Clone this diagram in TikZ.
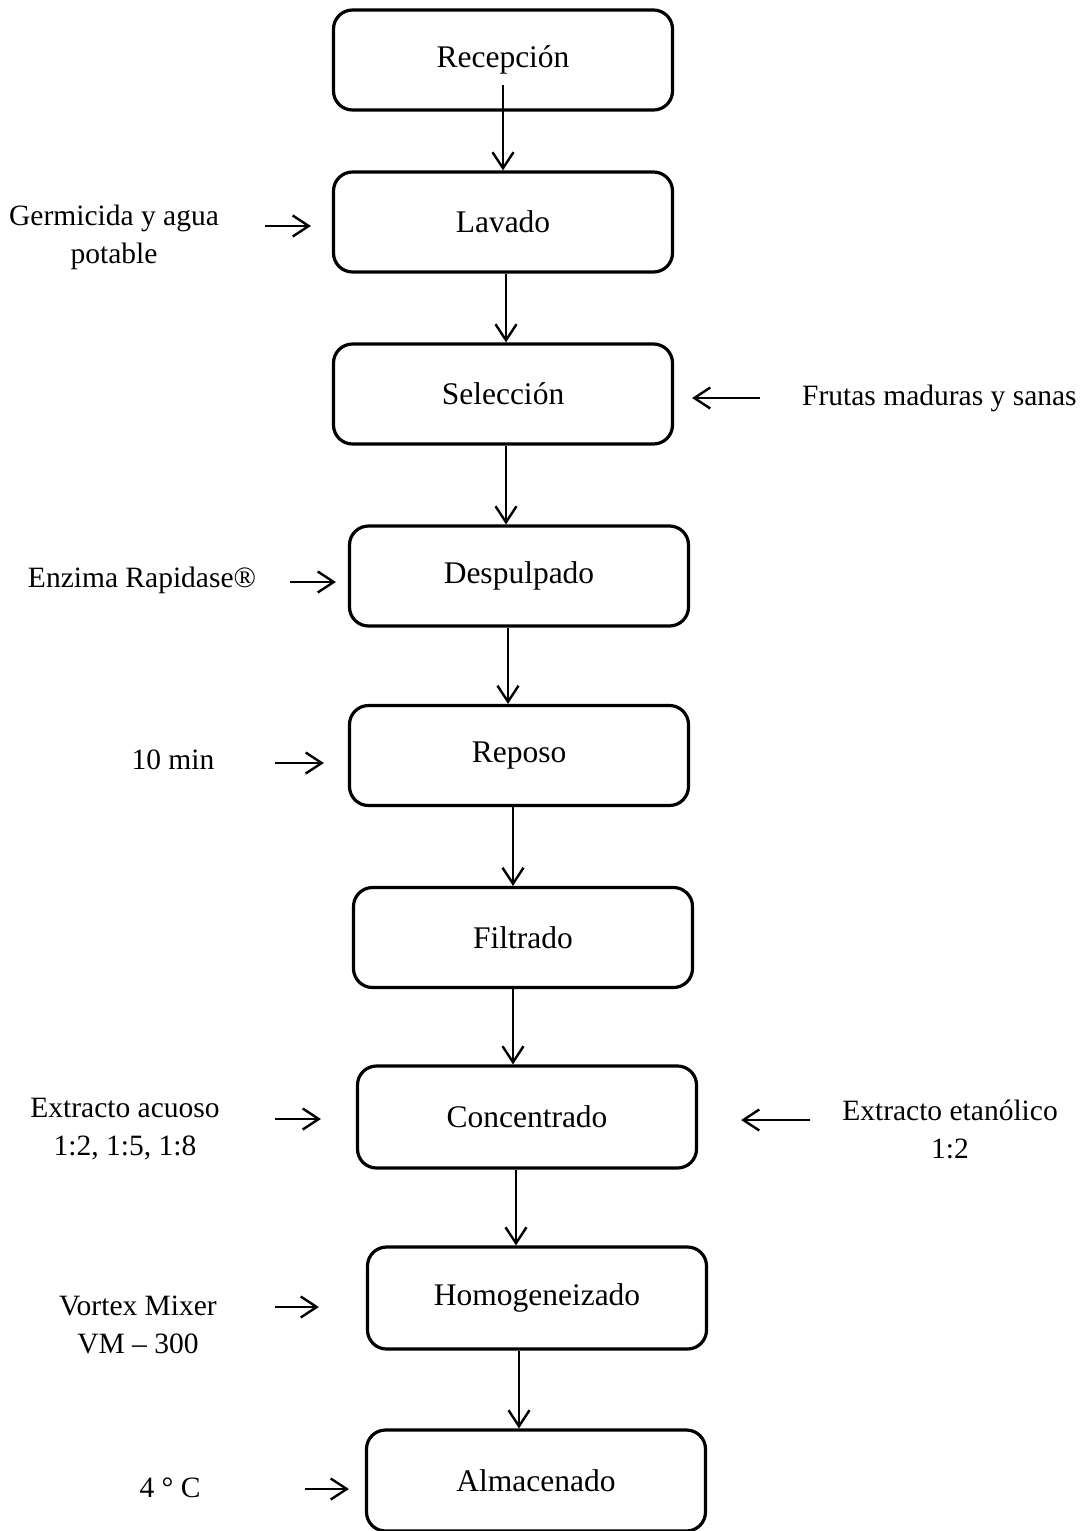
\documentclass[tikz,border=0pt]{standalone}
\usepackage{fontspec}
\setmainfont{Liberation Serif}
\usetikzlibrary{arrows.meta}
\begin{document}
\begin{tikzpicture}[x=1pt,y=-1pt,
  stepbox/.style={draw, line width=3.2pt, rounded corners=19pt, minimum width=339pt, minimum height=100pt, inner sep=0pt, font=\fontsize{31.5}{38}\selectfont},
  lbl/.style={align=center, inner sep=0pt, font=\fontsize{29.5}{38}\selectfont},
  arr/.style={line width=2.4pt, -{Straight Barb[length=16pt,width=21pt,line width=2.4pt]}}]
\useasboundingbox (0,0) rectangle (1084,1531);
% boxes
\node[stepbox] (rec) at (503,60) {Recepción};
\node[stepbox] (lav) at (503,222) {Lavado};
\node[stepbox] (sel) at (503,394) {Selección};
\node[stepbox] (desp) at (519,576) {Despulpado};
\node[stepbox] (repo) at (519,755.5) {Reposo};
\node[stepbox] (filt) at (523,937.5) {Filtrado};
\node[stepbox, minimum height=102pt] (conc) at (527,1117) {Concentrado};
\node[stepbox, minimum height=102pt] (homo) at (537,1298) {Homogeneizado};
\node[stepbox, minimum height=101pt] (alm) at (536,1480.5) {Almacenado};
% vertical arrows
\draw[arr] ([yshift=-25pt]rec.center) -- (rec.center |- lav.north);
\draw[arr] ([xshift=3pt]lav.south) -- ([xshift=3pt]lav.south |- sel.north);
\draw[arr] ([xshift=3pt]sel.south) -- ([xshift=3pt]sel.south |- desp.north);
\draw[arr] ([xshift=-11pt]desp.south) -- ([xshift=-11pt]desp.south |- repo.north);
\draw[arr] ([xshift=-6pt]repo.south) -- ([xshift=-6pt]repo.south |- filt.north);
\draw[arr] ([xshift=-10pt]filt.south) -- ([xshift=-10pt]filt.south |- conc.north);
\draw[arr] ([xshift=-11pt]conc.south) -- ([xshift=-11pt]conc.south |- homo.north);
\draw[arr] ([xshift=-18pt]homo.south) -- ([xshift=-18pt]homo.south |- alm.north);
% side labels
\node[lbl] (germ) at (114,237) {Germicida y agua\\potable};
\node[lbl, anchor=west] (frut) at (802,398) {Frutas maduras y sanas};
\node[lbl] (enz) at (142,580) {Enzima Rapidase®};
\node[lbl] (tmin) at (173,760) {10 min};
\node[lbl] (acu) at (125,1129) {Extracto acuoso\\1:2, 1:5, 1:8};
\node[lbl] (eta) at (950,1129) {Extracto etanólico\\1:2};
\node[lbl] (vor) at (138,1325) {Vortex Mixer\\VM – 300};
\node[lbl] (four) at (170,1488) {4 ° C};
% side arrow start points
\coordinate (cg) at (265,226);
\coordinate (cf) at (760,398);
\coordinate (ce) at (290,582);
\coordinate (cm) at (275,763);
\coordinate (ca) at (275,1119);
\coordinate (ct) at (810,1120);
\coordinate (cv) at (275,1307);
\coordinate (c4) at (305,1489);
\draw[arr, shorten >=21pt] (cg) -- (cg -| lav.west);
\draw[arr, shorten >=18pt] (cf) -- (cf -| sel.east);
\draw[arr, shorten >=12pt] (ce) -- (ce -| desp.west);
\draw[arr, shorten >=24pt] (cm) -- (cm -| repo.west);
\draw[arr, shorten >=35pt] (ca) -- (ca -| conc.west);
\draw[arr, shorten >=43pt] (ct) -- (ct -| conc.east);
\draw[arr, shorten >=47pt] (cv) -- (cv -| homo.west);
\draw[arr, shorten >=16pt] (c4) -- (c4 -| alm.west);
\end{tikzpicture}
\end{document}
